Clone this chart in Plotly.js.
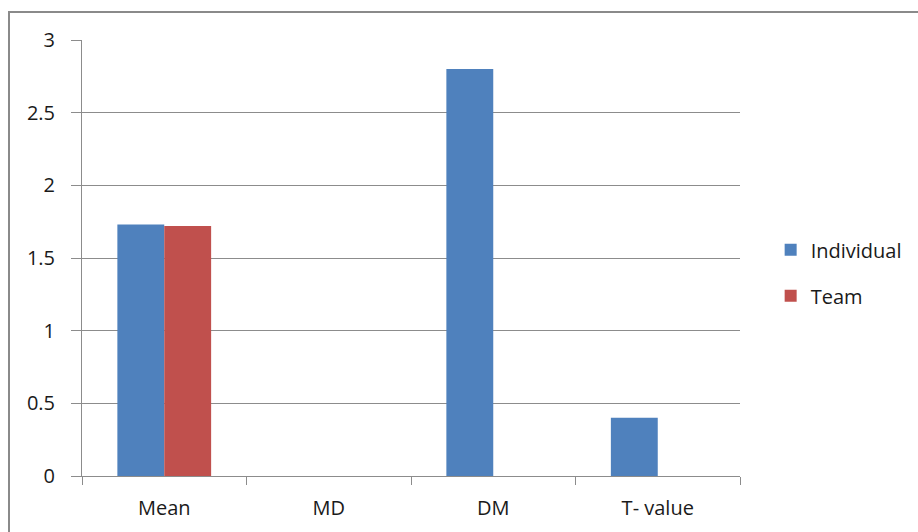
<!DOCTYPE html>
<html>
<head>
<meta charset="utf-8">
<script src="https://cdn.plot.ly/plotly-3.0.1.min.js"></script>
<style>
  html, body { margin: 0; padding: 0; background: #fff; }
  #wrap { position: relative; width: 918px; height: 532px; overflow: hidden; }
  #chart { position: absolute; left: 0; top: 0; width: 918px; height: 532px; }
  #frame { position: absolute; left: 8px; top: 11px; width: 940px; height: 560px;
           border: 2px solid #8a8a8a; box-sizing: border-box; pointer-events: none; }
</style>
</head>
<body>
<div id="wrap">
  <div id="chart"></div>
  <div id="frame"></div>
</div>
<script>
// Category labels and series values
const categories = ["Mean", "MD", "DM", "T- value"];
const individual = [1.73, null, 2.80, 0.40];
const team = [1.72, null, null, null];
const yTicks = [0, 0.5, 1, 1.5, 2, 2.5, 3];
const yTickText = ["0", "0.5", "1", "1.5", "2", "2.5", "3"];

const font = { family: "'Open Sans', sans-serif", size: 20, color: "#1a1a1a" };

const traces = [
  { type: "bar", name: "Individual", x: categories, y: individual,
    marker: { color: "#4F81BD", line: { width: 0 } }, legendgroup: "a" },
  { type: "bar", name: "Team", x: categories, y: team,
    marker: { color: "#C0504D", line: { width: 0 } }, legendgroup: "b" }
];

const layout = {
  width: 918, height: 532,
  margin: { l: 82, r: 177, t: 40, b: 56 },
  paper_bgcolor: "rgba(0,0,0,0)",
  plot_bgcolor: "#fff",
  font: font,
  barmode: "group",
  bargap: 0.43,
  bargroupgap: 0,
  showlegend: true,
  legend: {
    x: 1.045, xanchor: "left", y: 0.466, yanchor: "middle",
    font: font,
    tracegroupgap: 17, traceorder: "grouped",
    itemwidth: 30
  },
  xaxis: {
    type: "category",
    showline: true, linecolor: "#8c8c8c", linewidth: 1,
    ticks: "outside", tickson: "boundaries", ticklen: 8, tickcolor: "#8c8c8c",
    showgrid: false, zeroline: false,
    ticklabelstandoff: 14,
    tickfont: font
  },
  yaxis: {
    range: [0, 3],
    tickvals: yTicks, ticktext: yTickText,
    showline: true, linecolor: "#8c8c8c", linewidth: 1,
    ticks: "outside", ticklen: 10, tickcolor: "#8c8c8c",
    showgrid: true, gridcolor: "#8c8c8c", gridwidth: 1,
    zeroline: false,
    ticklabelstandoff: 12,
    tickfont: font
  }
};

Plotly.newPlot("chart", traces, layout, { displayModeBar: false, staticPlot: true });
</script>
</body>
</html>
